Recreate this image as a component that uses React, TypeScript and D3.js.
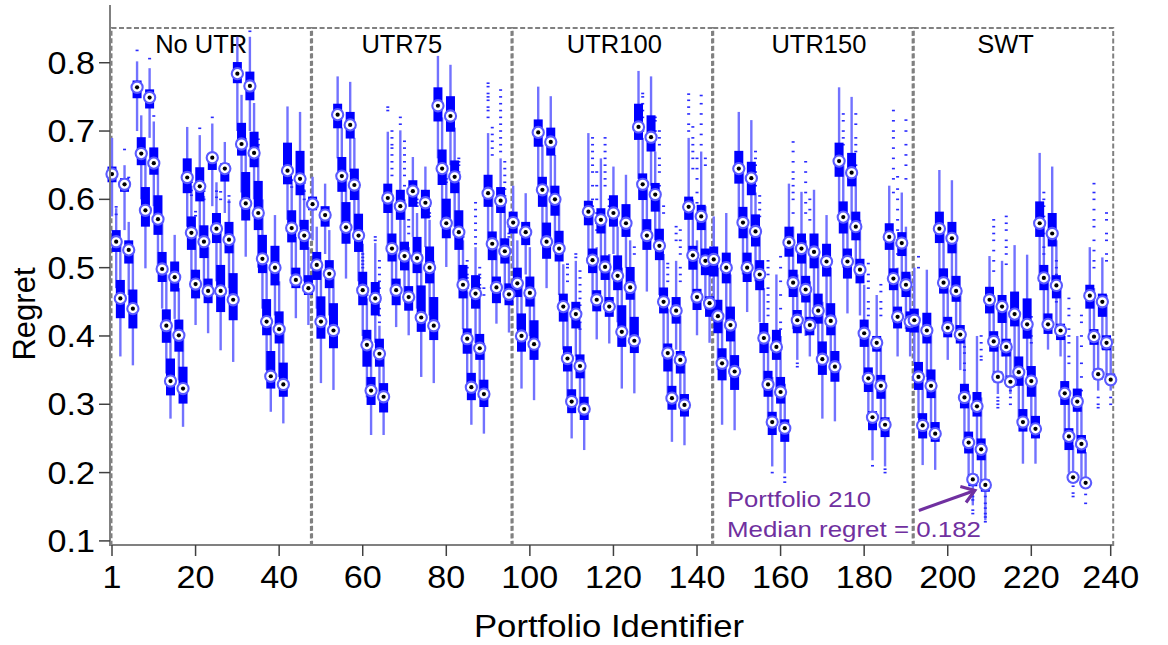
import React from 'react';
import * as d3 from 'd3';

type Box = [number, number, number, number, number]; // whisker low, q1, median, q3, whisker high

const groupNames = ['No UTR', 'UTR75', 'UTR100', 'UTR150', 'SWT'];

const noUtr: Box[] = [
  [0.575, 0.625, 0.637, 0.648, 0.690], [0.470, 0.523, 0.538, 0.555, 0.587], [0.370, 0.426, 0.455, 0.482, 0.535],
  [0.555, 0.611, 0.622, 0.631, 0.650], [0.460, 0.506, 0.526, 0.540, 0.567], [0.357, 0.411, 0.440, 0.468, 0.520],
  [0.700, 0.748, 0.764, 0.774, 0.802], [0.600, 0.650, 0.667, 0.691, 0.723], [0.499, 0.560, 0.584, 0.618, 0.665],
  [0.690, 0.733, 0.749, 0.761, 0.792], [0.590, 0.636, 0.653, 0.676, 0.714], [0.495, 0.548, 0.571, 0.606, 0.650],
  [0.440, 0.479, 0.498, 0.523, 0.570], [0.345, 0.390, 0.415, 0.439, 0.490], [0.279, 0.313, 0.334, 0.367, 0.410],
  [0.425, 0.465, 0.486, 0.509, 0.548], [0.335, 0.377, 0.401, 0.424, 0.470], [0.267, 0.301, 0.323, 0.355, 0.400],
  [0.560, 0.609, 0.632, 0.660, 0.706], [0.475, 0.526, 0.551, 0.575, 0.620], [0.416, 0.455, 0.476, 0.497, 0.545],
  [0.545, 0.597, 0.619, 0.647, 0.694], [0.470, 0.514, 0.538, 0.562, 0.605], [0.404, 0.448, 0.466, 0.484, 0.530],
  [0.590, 0.643, 0.661, 0.668, 0.711], [0.480, 0.536, 0.557, 0.580, 0.625], [0.379, 0.435, 0.466, 0.504, 0.560],
  [0.580, 0.626, 0.645, 0.653, 0.684], [0.470, 0.521, 0.541, 0.567, 0.600], [0.362, 0.423, 0.453, 0.492, 0.545],
  [0.700, 0.770, 0.784, 0.801, 0.838], [0.610, 0.664, 0.681, 0.712, 0.753], [0.516, 0.569, 0.594, 0.640, 0.690],
  [0.700, 0.745, 0.766, 0.787, 0.838], [0.600, 0.647, 0.668, 0.699, 0.741], [0.500, 0.555, 0.580, 0.627, 0.680],
  [0.440, 0.492, 0.513, 0.548, 0.600], [0.350, 0.401, 0.421, 0.454, 0.505], [0.289, 0.323, 0.341, 0.378, 0.425],
  [0.430, 0.474, 0.500, 0.532, 0.577], [0.340, 0.389, 0.410, 0.436, 0.480], [0.272, 0.311, 0.329, 0.361, 0.405],
  [0.570, 0.622, 0.642, 0.683, 0.736], [0.490, 0.537, 0.558, 0.584, 0.630], [0.426, 0.470, 0.482, 0.500, 0.545],
  [0.560, 0.606, 0.630, 0.671, 0.728], [0.480, 0.526, 0.547, 0.570, 0.615], [0.416, 0.460, 0.470, 0.489, 0.530],
];

const utr75: Box[] = [
  [0.540, 0.584, 0.593, 0.604, 0.633], [0.440, 0.482, 0.504, 0.523, 0.560], [0.331, 0.396, 0.421, 0.458, 0.505],
  [0.520, 0.560, 0.577, 0.590, 0.623], [0.430, 0.470, 0.491, 0.511, 0.555], [0.321, 0.382, 0.408, 0.448, 0.495],
  [0.660, 0.704, 0.724, 0.740, 0.780], [0.560, 0.611, 0.634, 0.662, 0.705], [0.484, 0.535, 0.559, 0.596, 0.640],
  [0.640, 0.689, 0.709, 0.728, 0.772], [0.550, 0.599, 0.621, 0.645, 0.690], [0.480, 0.523, 0.547, 0.579, 0.625],
  [0.400, 0.445, 0.467, 0.494, 0.535], [0.310, 0.355, 0.387, 0.409, 0.455], [0.255, 0.299, 0.320, 0.340, 0.385],
  [0.390, 0.430, 0.455, 0.479, 0.536], [0.310, 0.355, 0.374, 0.396, 0.415], [0.255, 0.288, 0.311, 0.331, 0.370],
  [0.530, 0.580, 0.602, 0.623, 0.699], [0.460, 0.509, 0.528, 0.550, 0.600], [0.413, 0.445, 0.467, 0.484, 0.525],
  [0.520, 0.570, 0.590, 0.614, 0.701], [0.450, 0.496, 0.517, 0.538, 0.600], [0.401, 0.437, 0.457, 0.473, 0.530],
  [0.545, 0.589, 0.612, 0.628, 0.662], [0.440, 0.492, 0.514, 0.545, 0.580], [0.340, 0.406, 0.427, 0.474, 0.520],
  [0.530, 0.572, 0.595, 0.614, 0.648], [0.430, 0.477, 0.500, 0.531, 0.570], [0.331, 0.394, 0.415, 0.457, 0.510],
  [0.660, 0.714, 0.737, 0.764, 0.810], [0.570, 0.621, 0.645, 0.673, 0.720], [0.501, 0.543, 0.565, 0.601, 0.650],
  [0.650, 0.699, 0.722, 0.751, 0.797], [0.560, 0.609, 0.633, 0.657, 0.705], [0.480, 0.526, 0.552, 0.584, 0.625],
  [0.410, 0.455, 0.475, 0.504, 0.540], [0.330, 0.374, 0.396, 0.411, 0.465], [0.270, 0.306, 0.325, 0.346, 0.395],
  [0.390, 0.440, 0.462, 0.489, 0.530], [0.320, 0.365, 0.382, 0.403, 0.460], [0.257, 0.296, 0.315, 0.336, 0.390],
  [0.540, 0.589, 0.609, 0.636, 0.697], [0.470, 0.511, 0.535, 0.553, 0.610], [0.418, 0.448, 0.471, 0.487, 0.530],
  [0.530, 0.580, 0.598, 0.618, 0.660], [0.460, 0.506, 0.524, 0.543, 0.595], [0.405, 0.445, 0.461, 0.477, 0.530],
];

const utr100: Box[] = [
  [0.500, 0.550, 0.566, 0.582, 0.620], [0.410, 0.457, 0.477, 0.500, 0.540], [0.323, 0.377, 0.400, 0.433, 0.480],
  [0.490, 0.533, 0.552, 0.567, 0.609], [0.400, 0.443, 0.463, 0.487, 0.530], [0.306, 0.365, 0.388, 0.423, 0.470],
  [0.620, 0.677, 0.698, 0.717, 0.765], [0.540, 0.589, 0.614, 0.633, 0.680], [0.470, 0.513, 0.538, 0.566, 0.610],
  [0.610, 0.664, 0.684, 0.705, 0.751], [0.530, 0.576, 0.600, 0.620, 0.665], [0.460, 0.509, 0.528, 0.554, 0.600],
  [0.380, 0.421, 0.443, 0.462, 0.505], [0.300, 0.348, 0.367, 0.385, 0.440], [0.250, 0.287, 0.304, 0.322, 0.360],
  [0.370, 0.411, 0.432, 0.450, 0.510], [0.290, 0.338, 0.356, 0.373, 0.420], [0.233, 0.277, 0.293, 0.311, 0.350],
  [0.510, 0.562, 0.582, 0.598, 0.697], [0.450, 0.492, 0.511, 0.528, 0.580], [0.395, 0.436, 0.453, 0.467, 0.530],
  [0.500, 0.550, 0.570, 0.587, 0.660], [0.440, 0.482, 0.501, 0.518, 0.570], [0.389, 0.428, 0.443, 0.457, 0.520],
  [0.520, 0.560, 0.580, 0.606, 0.648], [0.420, 0.467, 0.488, 0.518, 0.560], [0.323, 0.384, 0.406, 0.445, 0.500],
  [0.500, 0.545, 0.565, 0.593, 0.636], [0.400, 0.453, 0.471, 0.501, 0.540], [0.316, 0.375, 0.393, 0.428, 0.480],
  [0.630, 0.687, 0.706, 0.740, 0.788], [0.550, 0.599, 0.622, 0.638, 0.690], [0.465, 0.526, 0.547, 0.571, 0.620],
  [0.620, 0.670, 0.691, 0.723, 0.780], [0.540, 0.582, 0.607, 0.624, 0.670], [0.460, 0.511, 0.532, 0.557, 0.610],
  [0.380, 0.433, 0.450, 0.471, 0.520], [0.310, 0.348, 0.375, 0.389, 0.440], [0.245, 0.292, 0.309, 0.327, 0.370],
  [0.380, 0.418, 0.437, 0.457, 0.510], [0.300, 0.345, 0.365, 0.378, 0.430], [0.240, 0.282, 0.299, 0.315, 0.360],
  [0.520, 0.570, 0.589, 0.604, 0.690], [0.450, 0.497, 0.518, 0.532, 0.600], [0.401, 0.438, 0.457, 0.469, 0.540],
  [0.510, 0.555, 0.575, 0.592, 0.670], [0.440, 0.489, 0.510, 0.528, 0.590], [0.390, 0.428, 0.448, 0.458, 0.520],
];

const utr150: Box[] = [
  [0.440, 0.487, 0.512, 0.531, 0.575], [0.350, 0.404, 0.429, 0.453, 0.500], [0.270, 0.335, 0.360, 0.382, 0.430],
  [0.420, 0.477, 0.500, 0.522, 0.580], [0.340, 0.392, 0.416, 0.443, 0.490], [0.262, 0.321, 0.348, 0.372, 0.420],
  [0.570, 0.623, 0.645, 0.671, 0.728], [0.490, 0.543, 0.566, 0.589, 0.640], [0.435, 0.479, 0.500, 0.522, 0.570],
  [0.560, 0.606, 0.631, 0.655, 0.716], [0.480, 0.531, 0.553, 0.578, 0.610], [0.420, 0.467, 0.490, 0.511, 0.560],
  [0.330, 0.375, 0.397, 0.419, 0.470], [0.270, 0.311, 0.329, 0.349, 0.395], [0.209, 0.255, 0.274, 0.289, 0.340],
  [0.320, 0.365, 0.384, 0.409, 0.490], [0.260, 0.301, 0.318, 0.340, 0.400], [0.199, 0.245, 0.265, 0.278, 0.330],
  [0.470, 0.516, 0.537, 0.560, 0.623], [0.410, 0.457, 0.478, 0.497, 0.560], [0.365, 0.404, 0.423, 0.438, 0.490],
  [0.460, 0.506, 0.528, 0.550, 0.611], [0.400, 0.449, 0.468, 0.488, 0.540], [0.370, 0.401, 0.416, 0.428, 0.480],
  [0.440, 0.499, 0.523, 0.550, 0.614], [0.370, 0.418, 0.437, 0.462, 0.520], [0.279, 0.343, 0.366, 0.392, 0.450],
  [0.430, 0.487, 0.509, 0.535, 0.577], [0.350, 0.401, 0.422, 0.448, 0.500], [0.275, 0.333, 0.355, 0.378, 0.430],
  [0.580, 0.633, 0.656, 0.683, 0.764], [0.500, 0.550, 0.574, 0.597, 0.650], [0.433, 0.484, 0.509, 0.528, 0.580],
  [0.570, 0.619, 0.639, 0.668, 0.750], [0.490, 0.540, 0.560, 0.582, 0.640], [0.430, 0.477, 0.497, 0.513, 0.570],
  [0.340, 0.384, 0.404, 0.424, 0.475], [0.280, 0.318, 0.338, 0.354, 0.400], [0.218, 0.262, 0.281, 0.290, 0.340],
  [0.330, 0.377, 0.390, 0.400, 0.460], [0.270, 0.308, 0.327, 0.343, 0.390], [0.209, 0.252, 0.270, 0.281, 0.330],
  [0.480, 0.526, 0.545, 0.565, 0.620], [0.420, 0.467, 0.484, 0.499, 0.550], [0.370, 0.411, 0.428, 0.443, 0.500],
  [0.470, 0.517, 0.536, 0.552, 0.610], [0.410, 0.457, 0.475, 0.494, 0.560], [0.370, 0.406, 0.421, 0.436, 0.490],
];

const swt: Box[] = [
  [0.360, 0.405, 0.423, 0.440, 0.500], [0.280, 0.321, 0.340, 0.362, 0.420], [0.211, 0.250, 0.269, 0.287, 0.340],
  [0.340, 0.389, 0.408, 0.434, 0.497], [0.265, 0.309, 0.327, 0.351, 0.410], [0.204, 0.245, 0.257, 0.274, 0.330],
  [0.480, 0.536, 0.557, 0.582, 0.643], [0.410, 0.462, 0.478, 0.499, 0.560], [0.365, 0.398, 0.412, 0.428, 0.480],
  [0.470, 0.521, 0.543, 0.567, 0.628], [0.400, 0.450, 0.466, 0.488, 0.545], [0.350, 0.389, 0.402, 0.416, 0.470],
  [0.250, 0.294, 0.310, 0.330, 0.400], [0.195, 0.228, 0.244, 0.260, 0.320], [0.152, 0.180, 0.190, 0.198, 0.250],
  [0.240, 0.282, 0.297, 0.318, 0.400], [0.180, 0.218, 0.234, 0.250, 0.310], [0.130, 0.172, 0.182, 0.190, 0.240],
  [0.390, 0.433, 0.453, 0.472, 0.517], [0.340, 0.377, 0.392, 0.407, 0.460], [0.315, 0.332, 0.340, 0.348, 0.400],
  [0.370, 0.419, 0.443, 0.460, 0.510], [0.330, 0.370, 0.384, 0.396, 0.450], [0.315, 0.326, 0.333, 0.342, 0.390],
  [0.350, 0.414, 0.432, 0.465, 0.533], [0.280, 0.327, 0.347, 0.370, 0.430], [0.213, 0.260, 0.274, 0.293, 0.350],
  [0.350, 0.396, 0.417, 0.455, 0.519], [0.260, 0.311, 0.334, 0.356, 0.420], [0.213, 0.250, 0.264, 0.283, 0.340],
  [0.490, 0.545, 0.565, 0.597, 0.668], [0.420, 0.467, 0.485, 0.504, 0.560], [0.380, 0.403, 0.417, 0.433, 0.490],
  [0.480, 0.531, 0.550, 0.580, 0.648], [0.410, 0.455, 0.474, 0.489, 0.540], [0.370, 0.394, 0.408, 0.418, 0.470],
  [0.250, 0.299, 0.316, 0.334, 0.400], [0.200, 0.233, 0.253, 0.265, 0.320], [0.185, 0.186, 0.193, 0.200, 0.240],
  [0.240, 0.289, 0.304, 0.323, 0.400], [0.190, 0.228, 0.242, 0.255, 0.310], [0.178, 0.180, 0.185, 0.192, 0.230],
  [0.400, 0.440, 0.459, 0.475, 0.530], [0.350, 0.387, 0.399, 0.410, 0.470], [0.320, 0.336, 0.344, 0.352, 0.400],
  [0.380, 0.428, 0.450, 0.462, 0.515], [0.340, 0.379, 0.390, 0.401, 0.460], [0.320, 0.330, 0.336, 0.345, 0.390],
];

const groups: Box[][] = [noUtr, utr75, utr100, utr150, swt];

// [portfolio id, outlier values]
const outliers: [number, number[]][] = [
  [2, [0.589, 0.578]], [4, [0.673]], [5, [0.632, 0.620]], [7, [0.818]], [10, [0.806]], [11, [0.722]],
  [20, [0.625, 0.613, 0.606]], [21, [0.582, 0.576]], [22, [0.704]], [23, [0.612, 0.600]], [25, [0.720]],
  [26, [0.612, 0.603]], [27, [0.611, 0.600]], [29, [0.605, 0.596]], [34, [0.846]], [36, [0.688, 0.680]],
  [44, [0.640, 0.628, 0.618]], [47, [0.624, 0.612, 0.600]],
  [61, [0.520, 0.515, 0.510, 0.505, 0.500, 0.490]], [62, [0.470, 0.460]], [64, [0.545, 0.540]],
  [65, [0.510, 0.500, 0.490, 0.480, 0.470, 0.460, 0.450, 0.440, 0.430, 0.420]], [67, [0.735, 0.730]],
  [68, [0.700, 0.690, 0.680, 0.675, 0.665, 0.655, 0.645, 0.635]], [70, [0.720, 0.710]],
  [71, [0.685, 0.675, 0.665, 0.655, 0.645, 0.635, 0.620]], [72, [0.570, 0.560, 0.550]],
  [74, [0.600, 0.595, 0.590]], [77, [0.590, 0.580, 0.575]], [81, [0.630, 0.625]],
  [84, [0.660, 0.655, 0.650, 0.640, 0.630]], [85, [0.550, 0.545]], [86, [0.510, 0.500, 0.490, 0.485, 0.480, 0.470]],
  [88, [0.595, 0.585, 0.575, 0.565, 0.555, 0.545, 0.535]], [89, [0.500, 0.490, 0.485, 0.475, 0.470]],
  [90, [0.470, 0.460]], [91, [0.770, 0.765, 0.755, 0.750, 0.745, 0.735, 0.730, 0.720]],
  [92, [0.705, 0.695, 0.685, 0.675, 0.665]], [94, [0.760, 0.750, 0.740, 0.730, 0.720, 0.710, 0.700, 0.690, 0.680, 0.670]],
  [95, [0.655, 0.645, 0.635, 0.625, 0.615, 0.605]], [96, [0.570, 0.560, 0.550, 0.545]],
  [110, [0.505, 0.500, 0.490, 0.480]], [112, [0.520, 0.515]],
  [113, [0.495, 0.485, 0.475, 0.465, 0.455, 0.445, 0.435, 0.420, 0.410]],
  [116, [0.690, 0.680, 0.670, 0.660, 0.650, 0.640, 0.620, 0.600, 0.590]],
  [117, [0.640, 0.620, 0.600, 0.580, 0.565, 0.555]], [119, [0.690, 0.680, 0.670, 0.660, 0.650, 0.640, 0.630, 0.620]],
  [120, [0.600, 0.590, 0.580]], [126, [0.530, 0.520]], [128, [0.755, 0.750, 0.740, 0.730, 0.720, 0.700]],
  [131, [0.720, 0.715, 0.700]], [132, [0.700, 0.690, 0.680, 0.660, 0.650, 0.640, 0.620]], [133, [0.590, 0.580]],
  [134, [0.506, 0.500, 0.490, 0.480]], [136, [0.560, 0.550, 0.540]],
  [137, [0.555, 0.540, 0.530, 0.520, 0.500, 0.490, 0.480]], [139, [0.754, 0.745, 0.735, 0.725, 0.710, 0.700]],
  [140, [0.706, 0.690, 0.680, 0.670, 0.660, 0.645]], [141, [0.660, 0.645, 0.630, 0.610, 0.595]],
  [142, [0.752, 0.740, 0.725, 0.710, 0.695, 0.680]], [143, [0.660, 0.650]],
  [155, [0.670, 0.660, 0.650, 0.640, 0.620]], [156, [0.605, 0.595, 0.585, 0.575]],
  [158, [0.510, 0.500, 0.490, 0.470, 0.460, 0.450, 0.440, 0.430]], [159, [0.200]],
  [161, [0.516, 0.500, 0.480, 0.460, 0.440, 0.420, 0.410]], [162, [0.193, 0.186]],
  [164, [0.684, 0.670, 0.655, 0.640, 0.630, 0.620, 0.610, 0.600, 0.580]], [165, [0.360, 0.355]],
  [167, [0.655, 0.640, 0.625, 0.610, 0.595, 0.580]], [168, [0.600, 0.585, 0.570]],
  [176, [0.725, 0.715, 0.700, 0.690, 0.680]], [179, [0.725, 0.710, 0.690, 0.680, 0.670, 0.650]],
  [182, [0.506, 0.490, 0.480, 0.470, 0.450, 0.440, 0.430]], [183, [0.210]],
  [185, [0.475, 0.465, 0.450, 0.440, 0.430]], [186, [0.205, 0.200]],
  [188, [0.730, 0.715, 0.700, 0.690, 0.675, 0.660, 0.645, 0.630, 0.610]],
  [189, [0.633, 0.615, 0.600, 0.585, 0.570, 0.555, 0.540, 0.520]], [191, [0.716, 0.700, 0.680, 0.665, 0.650, 0.630]],
  [194, [0.516, 0.500]], [205, [0.384, 0.375, 0.360, 0.350]], [207, [0.170, 0.165, 0.160, 0.145, 0.140]],
  [209, [0.400, 0.390, 0.380, 0.370, 0.365]], [210, [0.165, 0.155, 0.148, 0.140, 0.135, 0.128]],
  [212, [0.570, 0.560, 0.550, 0.540, 0.525, 0.510, 0.495]], [213, [0.310, 0.305, 0.300, 0.295]],
  [215, [0.575, 0.565, 0.555, 0.540, 0.530, 0.520, 0.505]], [216, [0.320, 0.310, 0.300]],
  [221, [0.428, 0.415, 0.400, 0.390]], [224, [0.610, 0.600, 0.590, 0.575, 0.565, 0.550, 0.530, 0.520]],
  [227, [0.510, 0.500, 0.490, 0.475, 0.460, 0.450]], [230, [0.455, 0.440, 0.430, 0.410, 0.400, 0.390, 0.370, 0.360]],
  [231, [0.180, 0.170, 0.165]], [233, [0.430, 0.420, 0.400, 0.385, 0.360, 0.340, 0.320]], [234, [0.168, 0.155]],
  [236, [0.623, 0.610, 0.600, 0.585, 0.570, 0.560, 0.540, 0.525, 0.510, 0.500]], [237, [0.310, 0.300, 0.295]],
  [239, [0.580, 0.570, 0.550, 0.540, 0.520, 0.510]], [240, [0.310, 0.300]],
];

const yTicks = [0.1, 0.2, 0.3, 0.4, 0.5, 0.6, 0.7, 0.8];
const xTickPositions = [1, 21, 41, 61, 81, 101, 121, 141, 161, 181, 201, 221, 240];
const xTickLabels = ['1', '20', '40', '60', '80', '100', '120', '140', '160', '180', '200', '220', '240'];
const groupLabelShift = [-10, -10, 2, 6, -8];

const annotationId = 210;
const annotationLines = ['Portfolio 210', 'Median regret = 0.182'];

const FONT = "'Liberation Sans', Arial, Helvetica, sans-serif";

function SText(props: { x: number; y: number; size: number; anchor?: string; sx?: number; fill?: string; rotate?: number; children: React.ReactNode }) {
  const { x, y, size, anchor = 'middle', sx = 1.12, fill = '#000', rotate = 0, children } = props;
  return (
    <text
      transform={`translate(${x},${y}) rotate(${rotate}) scale(${sx},1)`}
      textAnchor={anchor}
      fontSize={size}
      fontFamily={FONT}
      fill={fill}
    >
      {children}
    </text>
  );
}

export default function App() {
  const W = 1168;
  const H = 645;
  const x = d3.scaleLinear().domain([1, 240]).range([112, 1110.7]);
  const y = d3.scaleLinear().domain([0.094, 0.8845]).range([545, 5]);

  const data = groups.flat().map((b, i) => ({ id: i + 1, lo: b[0], q1: b[1], med: b[2], q3: b[3], hi: b[4] }));
  const boxW = 9;

  const whiskerColor = '#7272ff';
  const boxColor = '#0000ff';
  const ringColor = '#5a5aff';
  const purple = '#7030A0';

  const ann = data[annotationId - 1];
  const tipX = x(ann.id) - 10.5;
  const tipY = y(ann.med) + 5.5;
  const startX = tipX - 56;
  const startY = tipY + 20;
  const ang = Math.atan2(startY - tipY, startX - tipX);
  const headLen = 15;
  const headAng = 0.6;
  const h1 = [tipX + headLen * Math.cos(ang + headAng), tipY + headLen * Math.sin(ang + headAng)];
  const h2 = [tipX + headLen * Math.cos(ang - headAng), tipY + headLen * Math.sin(ang - headAng)];

  return (
    <svg width={W} height={H} style={{ position: 'absolute', left: 0, top: 0, background: '#fff' }}>
      <rect x={0} y={0} width={W} height={H} fill="#fff" />

      {/* group boxes */}
      {groupNames.map((name, g) => {
        const left = x(g * 48 + 1) - 0.5;
        const right = x(g * 48 + 48) + 2.5;
        const top = 28;
        const bottom = 545;
        return (
          <g key={name}>
            <rect x={left} y={top} width={right - left} height={bottom - top} fill="none" stroke="#808080" strokeWidth={2} strokeDasharray="5 2.5" />
            <text x={(left + right) / 2 + groupLabelShift[g]} y={53} textAnchor="middle" fontSize={25.5} fontFamily={FONT} fill="#000">
              {name}
            </text>
          </g>
        );
      })}

      {/* whiskers */}
      {data.map((d) => (
        <line key={'w' + d.id} x1={x(d.id)} x2={x(d.id)} y1={y(d.hi)} y2={y(d.lo)} stroke={whiskerColor} strokeWidth={2.4} />
      ))}

      {/* outliers */}
      {outliers.map(([id, vals]) =>
        vals.map((v, k) => (
          <line key={'o' + id + '-' + k} x1={x(id) - 1.5} x2={x(id) + 1.5} y1={y(v)} y2={y(v)} stroke="#2a2aff" strokeWidth={1.6} />
        ))
      )}

      {/* boxes */}
      {data.map((d) => (
        <rect key={'b' + d.id} x={x(d.id) - boxW / 2} y={y(d.q3)} width={boxW} height={Math.max(1, y(d.q1) - y(d.q3))} fill={boxColor} />
      ))}

      {/* medians */}
      {data.map((d) => (
        <g key={'m' + d.id}>
          <circle cx={x(d.id)} cy={y(d.med)} r={5.6} fill="#fff" stroke={ringColor} strokeWidth={2.1} />
          <circle cx={x(d.id)} cy={y(d.med)} r={2.1} fill="#000" />
        </g>
      ))}

      {/* y axis */}
      <line x1={110} x2={110} y1={5} y2={545} stroke="#808080" strokeWidth={2} />
      {yTicks.map((t) => (
        <g key={'yt' + t}>
          <line x1={99} x2={110} y1={y(t)} y2={y(t)} stroke="#404040" strokeWidth={1.5} />
          <SText x={95} y={y(t) + 11} size={30.5} anchor="end">
            {t.toFixed(1)}
          </SText>
        </g>
      ))}

      {/* x axis */}
      <line x1={109} x2={1113} y1={545} y2={545} stroke="#808080" strokeWidth={2} />
      {xTickPositions.map((p, i) => (
        <g key={'xt' + p}>
          <line x1={x(p)} x2={x(p)} y1={545} y2={556} stroke="#404040" strokeWidth={1.5} />
          <SText x={x(p)} y={588} size={30.5}>
            {xTickLabels[i]}
          </SText>
        </g>
      ))}

      <SText x={609} y={637} size={31}>Portfolio Identifier</SText>
      <SText x={35} y={314} size={31} rotate={-90} sx={1}>Regret</SText>

      {/* annotation */}
      <text x={727} y={507} fontSize={22.5} fontFamily={FONT} fill={purple} textLength={144} lengthAdjust="spacingAndGlyphs">
        {annotationLines[0]}
      </text>
      <text x={727} y={537} fontSize={22.5} fontFamily={FONT} fill={purple} textLength={254} lengthAdjust="spacingAndGlyphs">
        {annotationLines[1]}
      </text>
      <line x1={startX} y1={startY} x2={tipX} y2={tipY} stroke={purple} strokeWidth={3.2} />
      <polyline points={`${h1[0]},${h1[1]} ${tipX},${tipY} ${h2[0]},${h2[1]}`} fill="none" stroke={purple} strokeWidth={3.2} strokeLinejoin="miter" />
    </svg>
  );
}
